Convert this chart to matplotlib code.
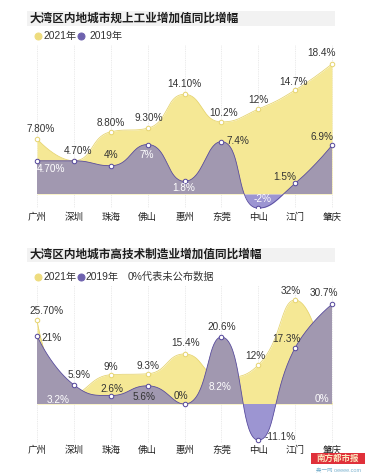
import matplotlib
matplotlib.use("Agg")
import matplotlib.pyplot as plt
import numpy as np
from matplotlib.lines import Line2D
from matplotlib.patches import Rectangle

plt.rcParams['font.family'] = ['Liberation Sans', 'Noto Sans CJK SC', 'DejaVu Sans']

# data
cities = ['广州', '深圳', '珠海', '佛山', '惠州', '东莞', '中山', '江门', '肇庆']

ind_2021 = [7.8, 4.7, 8.8, 9.3, 14.1, 10.2, 12, 14.7, 18.4]
ind_2019 = [4.7, 4.7, 4, 7, 1.8, 7.4, -2, 1.5, 6.9]
ind_2021_lbl = ['7.80%', '4.70%', '8.80%', '9.30%', '14.10%', '10.2%', '12%', '14.7%', '18.4%']
ind_2019_lbl = ['4.70%', '', '4%', '7%', '1.8%', '7.4%', '-2%', '1.5%', '6.9%']

hi_2021 = [25.7, 3.2, 9, 9.3, 15.4, 8.2, 12, 32, 0]
hi_2019 = [21, 5.9, 2.6, 5.6, 0, 20.6, -11.1, 17.3, 30.7]
hi_2021_lbl = ['25.70%', '3.2%', '9%', '9.3%', '15.4%', '8.2%', '12%', '32%', '0%']
hi_2019_lbl = ['21%', '5.9%', '2.6%', '5.6%', '0%', '20.6%', '-11.1%', '17.3%', '30.7%']

# label placement (dx, dy in px, y down) and colour: d = dark, w = white
ind_2021_pos = [(4, -10, 'd'), (4, -10, 'd'), (0, -9, 'd'), (1, -10, 'd'), (0, -10, 'd'),
                (2, -9, 'd'), (0, -9, 'd'), (-2, -8.5, 'd'), (-10, -11, 'd')]
ind_2019_pos = [(14, 8, 'w'), (0, 0, 'd'), (0, -11, 'd'), (-1, 10.5, 'w'), (-1, 7, 'w'),
                (17, -1, 'd'), (4, -9, 'w'), (-10, -6, 'd'), (-10, -8.5, 'd')]
hi_2021_pos = [(10, -9.5, 'd'), (-16, 6, 'w'), (0, -8, 'd'), (0, -8, 'd'), (1.5, -10.5, 'd'),
               (-1, 10, 'w'), (-3, -9, 'd'), (-4, -8.5, 'd'), (-10, -5, 'w')]
hi_2019_pos = [(15, 2.6, 'd'), (5, -10, 'd'), (1, -7, 'd'), (-4, 11.5, 'd'), (-4, -8, 'd'),
               (0, -10, 'd'), (22, -3.5, 'd'), (-9, -9, 'd'), (-8, -11, 'd')]

W, H = 365, 475
YEL = '#F5E895'
YEL_EDGE = '#E6D470'
PUR_UP = '#A198B0'
PUR_DN = '#9C95D2'
PUR_LINE = '#55489C'
DARK = '#333333'

fig = plt.figure(figsize=(W / 72, H / 72), dpi=72)
fig.patch.set_facecolor('white')


def echarts_smooth(px, py, smooth=0.5, n=40):
    # bezier smoothing like echarts line series, done in display coords
    ox, oy = [px[0]], [py[0]]
    c0 = (px[0], py[0])
    N = len(px)
    for i in range(1, N):
        x, y = px[i], py[i]
        pX, pY = px[i - 1], py[i - 1]
        if i == N - 1:
            c1 = (x, y)
            nc = None
        else:
            nX, nY = px[i + 1], py[i + 1]
            vx, vy = nX - pX, nY - pY
            lp = np.hypot(x - pX, y - pY)
            ln = np.hypot(nX - x, nY - y)
            r = ln / (ln + lp)
            ncx = x + vx * smooth * r
            ncy = y + vy * smooth * r
            ncx = max(min(ncx, max(nX, x)), min(nX, x))
            ncy = max(min(ncy, max(nY, y)), min(nY, y))
            vx, vy = ncx - x, ncy - y
            c1x = x - vx * lp / ln
            c1y = y - vy * lp / ln
            c1x = max(min(c1x, max(pX, x)), min(pX, x))
            c1y = max(min(c1y, max(pY, y)), min(pY, y))
            vx, vy = x - c1x, y - c1y
            nc = (x + vx * ln / lp, y + vy * ln / lp)
            c1 = (c1x, c1y)
        t = np.linspace(0, 1, n)[1:]
        a = (1 - t) ** 3
        b = 3 * (1 - t) ** 2 * t
        c = 3 * (1 - t) * t ** 2
        d = t ** 3
        ox.extend(a * pX + b * c0[0] + c * c1[0] + d * x)
        oy.extend(a * pY + b * c0[1] + c * c1[1] + d * y)
        c0 = nc
    return np.array(ox), np.array(oy)


def smooth_curve(ax, vals):
    disp = ax.transData.transform(np.column_stack([np.arange(len(vals)), vals]))
    sx, sy = echarts_smooth(disp[:, 0], disp[:, 1])
    back = ax.transData.inverted().transform(np.column_stack([sx, sy]))
    return back[:, 0], back[:, 1]


def panel(top_px, bot_px, zero_px, scale, label_px, title, title_y, legend_y, note,
          v21, v19, l21, l19, p21, p19):
    ax = fig.add_axes([0, 1 - bot_px / H, 1, (bot_px - top_px) / H])
    x0, step = 37, 36.875
    ax.set_xlim(-x0 / step, (W - x0) / step)
    ax.set_ylim((zero_px - bot_px) / scale, (zero_px - top_px) / scale)
    ax.axis('off')

    for i in range(len(cities)):
        ax.axvline(i, color='#DADADA', lw=0.6, ls=(0, (1.5, 1.5)), zorder=0)

    xs, ys = smooth_curve(ax, v21)
    ax.fill_between(xs, 0, ys, color=YEL, lw=0, zorder=1)
    ax.plot(xs, ys, color=YEL_EDGE, lw=0.8, zorder=1.2)
    # 0 means unpublished: no marker
    mk = [(i, v) for i, v in enumerate(v21) if v != 0]
    ax.plot([m[0] for m in mk], [m[1] for m in mk], 'o', ms=4.5, mfc='white',
            mec=YEL_EDGE, mew=1, zorder=1.3)

    xp, yp = smooth_curve(ax, v19)
    ax.fill_between(xp, 0, yp, where=yp >= 0, interpolate=True, color=PUR_UP, lw=0, zorder=2)
    ax.fill_between(xp, 0, yp, where=yp <= 0, interpolate=True, color=PUR_DN, lw=0, zorder=2)
    ax.plot(xp, yp, color=PUR_LINE, lw=0.8, zorder=2.2)
    ax.plot(range(len(v19)), v19, 'o', ms=4.5, mfc='white', mec=PUR_LINE, mew=1, zorder=3)

    for vals, lbls, pos in [(v21, l21, p21), (v19, l19, p19)]:
        for i, (v, s, (dx, dy, c)) in enumerate(zip(vals, lbls, pos)):
            if not s:
                continue
            ax.annotate(s, (i, v), xytext=(dx, -dy), textcoords='offset points',
                        ha='center', va='center', fontsize=10,
                        color='white' if c == 'w' else DARK, zorder=4)

    for i, c in enumerate(cities):
        ax.annotate(c, (i, 0), xycoords=('data', 'axes fraction'),
                    xytext=(0, -(label_px - bot_px)), textcoords='offset points',
                    ha='center', va='center', fontsize=9.5, color='#222222')

    fig.add_artist(Rectangle((27 / W, 1 - (title_y + 7) / H), 308 / W, 14 / H,
                             transform=fig.transFigure, color='#F2F2F2', lw=0, zorder=0))
    fig.text(30 / W, 1 - title_y / H, title, fontsize=11.6, fontweight='bold',
             color='#1E1E1E', va='center', ha='left')

    fig.add_artist(Line2D([37.5 / W], [1 - legend_y / H], marker='o', ms=7, color='#EEDC7E',
                          lw=0, transform=fig.transFigure))
    fig.text(43 / W, 1 - legend_y / H, '2021年', fontsize=10.2, color=DARK, va='center')
    fig.add_artist(Line2D([80.5 / W], [1 - legend_y / H], marker='o', ms=7, color='#6E62AE',
                          lw=0, transform=fig.transFigure))
    fig.text((89 if not note else 86) / W, 1 - legend_y / H, '2019年', fontsize=10.2,
             color=DARK, va='center')
    if note:
        fig.text(128 / W, 1 - legend_y / H, note, fontsize=10.2, color=DARK, va='center')
    return ax


panel(45, 208, 194, 7.07, 217, '大湾区内地城市规上工业增加值同比增幅', 18.5, 36, '',
      ind_2021, ind_2019, ind_2021_lbl, ind_2019_lbl, ind_2021_pos, ind_2019_pos)
panel(285, 443, 404, 3.25, 450, '大湾区内地城市高技术制造业增加值同比增幅', 255, 277,
      '0%代表未公布数据',
      hi_2021, hi_2019, hi_2021_lbl, hi_2019_lbl, hi_2021_pos, hi_2019_pos)

# newspaper mark
fig.add_artist(Rectangle((311 / W, 1 - 464 / H), 54 / W, 11 / H, transform=fig.transFigure,
                         color='#E0303A', lw=0, zorder=5))
fig.text(338 / W, 1 - 458.5 / H, '南方都市报', fontsize=8.5, fontweight='bold',
         color='#FBE9C0', ha='center', va='center', zorder=6)
fig.text(338 / W, 1 - 470.5 / H, '奥一网 oeeee.com', fontsize=5.5, color='#7DB3CF',
         ha='center', va='center', zorder=6)

fig.savefig('out.png', dpi=72, facecolor='white')
